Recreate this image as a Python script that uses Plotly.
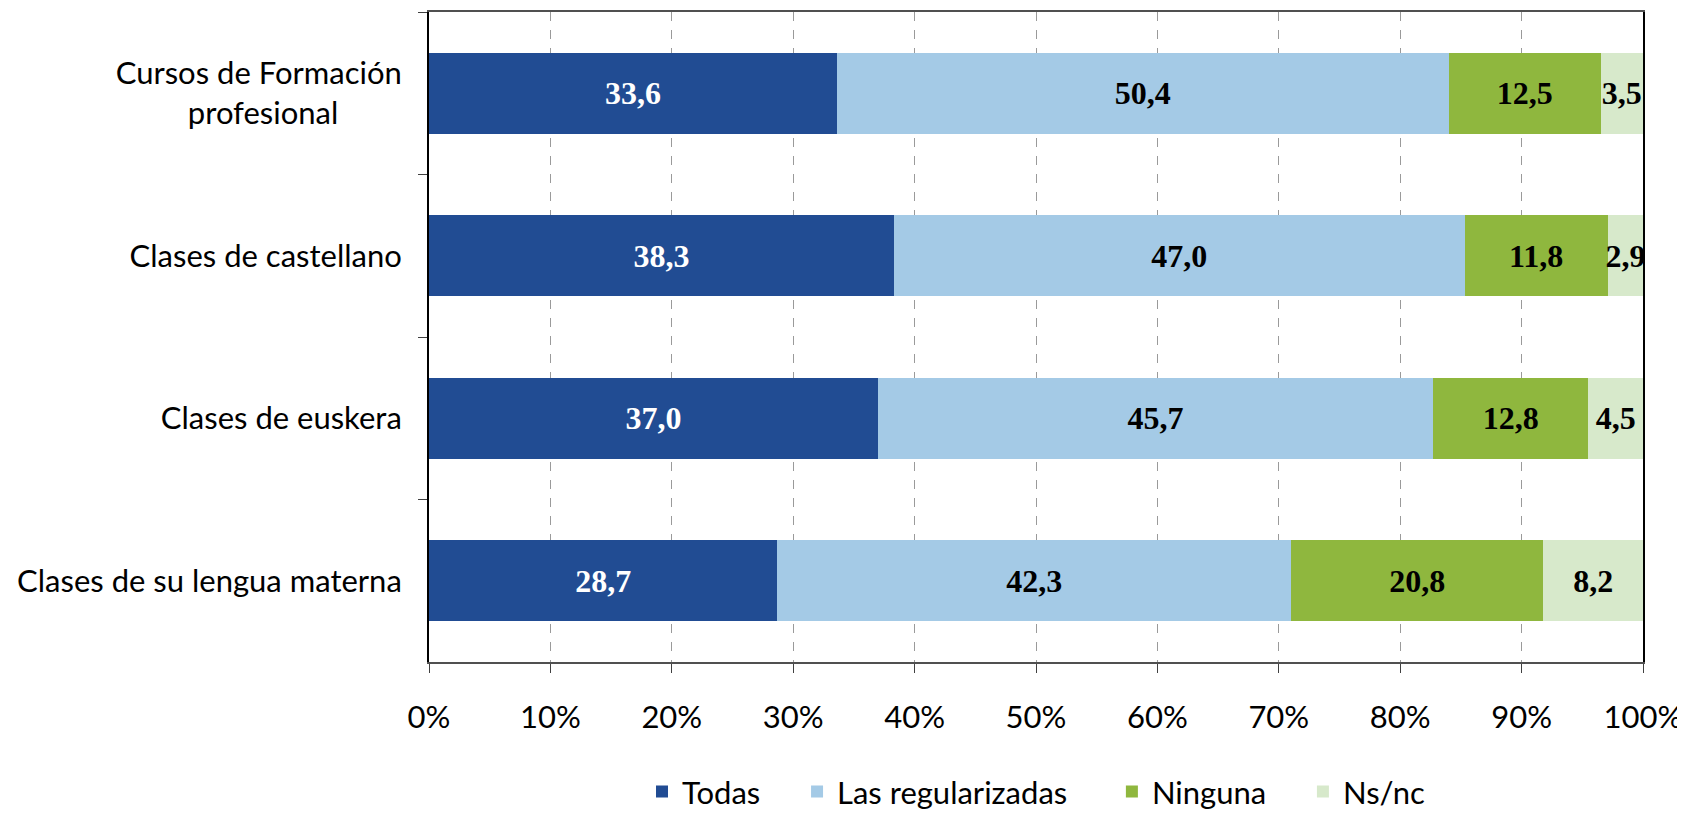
import plotly.graph_objects as go

NB = "\u00a0"
categories = ["Cursos de Formación<br>profesional" + NB * 8, "Clases de castellano",
              "Clases de euskera", "Clases de su lengua materna"]
series_names = ["Todas", "Las regularizadas", "Ninguna", "Ns/nc"]
todas = [33.6, 38.3, 37.0, 28.7]
regularizadas = [50.4, 47.0, 45.7, 42.3]
ninguna = [12.5, 11.8, 12.8, 20.8]
nsnc = [3.5, 2.9, 4.5, 8.2]
x_ticks = [0, 10, 20, 30, 40, 50, 60, 70, 80, 90, 100]
x_ticklabels = [f"{v}%" for v in x_ticks]

colors = ["#214C93", "#A4CAE6", "#8FB73E", "#D7E9CB"]
text_colors = ["white", "black", "black", "black"]
values = [todas, regularizadas, ninguna, nsnc]
legend_pad = [4, 5, 4, 0]

SANS = "Lato, 'Open Sans', sans-serif"
SERIF = "'Liberation Serif', 'DejaVu Serif', serif"

fig = go.Figure()
for name, vals, col, tcol, pad in zip(series_names, values, colors, text_colors, legend_pad):
    fig.add_trace(go.Bar(
        name=name + NB * pad, y=categories, x=vals, orientation="h",
        marker=dict(color=col, line=dict(width=0)),
        text=[f"{v:.1f}".replace(".", ",") for v in vals],
        textposition="inside", insidetextanchor="middle",
        textangle=0, constraintext="none",
        textfont=dict(family=SERIF, size=32, color=tcol, weight="bold"),
        hoverinfo="skip",
    ))

# the page body has an 8px default margin, so the figure is drawn 8px in
fig.update_layout(
    barmode="stack", bargap=0.5,
    width=1677, height=808,
    margin=dict(l=421, r=42, t=2, b=154),
    plot_bgcolor="white", paper_bgcolor="white",
    font=dict(family=SANS, size=31, color="black"),
    legend=dict(orientation="h", x=0.5, xanchor="center",
                yref="container", y=0.03, yanchor="middle",
                font=dict(family=SANS, size=31), traceorder="normal"),
    xaxis=dict(range=[0, 100], tickvals=x_ticks, ticktext=x_ticklabels,
               showgrid=True, gridcolor="#9a9a9a", griddash="dash", gridwidth=1,
               showline=True, linecolor="#505050", linewidth=2, mirror=True,
               ticks="outside", ticklen=9, tickcolor="#404040",
               tickfont=dict(family=SANS, size=31), zeroline=False,
               ticklabelstandoff=18),
    yaxis=dict(categoryorder="array", categoryarray=categories, autorange="reversed",
               tickson="boundaries", ticks="outside", ticklen=9, tickcolor="#404040",
               showline=True, linecolor="black", linewidth=2, mirror=True,
               showgrid=False, tickfont=dict(family=SANS, size=31),
               ticklabelstandoff=19),
)

fig.write_html("out.html")
